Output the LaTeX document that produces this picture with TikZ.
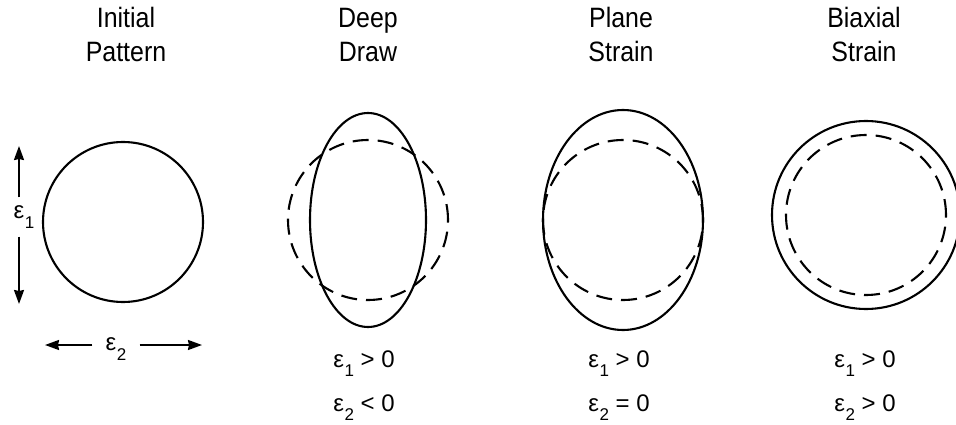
\documentclass[tikz,border=0pt]{standalone}
\usepackage{fontspec}
\setmainfont{Liberation Sans}
\newfontfamily\titlefont[FakeStretch=0.89]{Liberation Sans}
\usepackage{tikz}
\usetikzlibrary{calc,positioning,arrows.meta}

\newcommand{\eps}[1]{ε\kern0.5pt\raisebox{-0.38em}{\fontsize{17}{17}\selectfont #1}}

\begin{document}
\begin{tikzpicture}[x=1pt,y=-1pt,
  newshape/.style={line width=2.1pt},
  oldshape/.style={line width=2.1pt,dash pattern=on 16pt off 9pt},
  strarrow/.style={line width=1.8pt,-{Stealth[length=14pt,width=10pt,inset=1pt]}},
  title/.style={anchor=base,inner sep=0pt,font=\titlefont\fontsize{28}{34}\selectfont},
  cond/.style={anchor=base,inner sep=0pt,font=\fontsize{24}{28}\selectfont}]
  \useasboundingbox (0,0) rectangle (956,425);
  % centres of the four patterns
  \coordinate (Ci) at (123,222);
  \coordinate (Cd) at (368,220);
  \coordinate (Cp) at (623,220);
  \coordinate (Cb) at (866,215);
  % titles
  \node[title] (Ti) at (126,28) {Initial};
  \node[title] (Ti2) at (126,62) {Pattern};
  \node[title] (Td) at (368,28) {Deep};
  \node[title] (Td2) at (368,62) {Draw};
  \node[title] (Tp) at (621,28) {Plane};
  \node[title] (Tp2) at (621,62) {Strain};
  \node[title] (Tb) at (864,28) {Biaxial};
  \node[title] (Tb2) at (864,62) {Strain};
  % initial pattern with strain directions
  \draw[newshape] (Ci) circle (80pt);
  \coordinate (Vt) at (19,146);
  \coordinate (Vb) at (19,304);
  \coordinate (Hl) at (45,345);
  \coordinate (Hr) at (202,345);
  \node[cond,minimum height=39pt,anchor=center] (eone) at (24,217) {\eps{1}};
  \node[cond,minimum width=47pt,anchor=center] (etwo) at (116,349) {\eps{2}};
  \draw[strarrow] (eone.north -| Vt) -- (Vt);
  \draw[strarrow] (eone.south -| Vb) -- (Vb);
  \draw[strarrow] (etwo.west |- Hl) -- (Hl);
  \draw[strarrow] (etwo.east |- Hr) -- (Hr);
  % deep draw
  \draw[oldshape] (Cd) circle (80pt);
  \draw[newshape] (Cd) ellipse [x radius=58pt,y radius=107pt];
  % plane strain
  \draw[oldshape] (Cp) ellipse [x radius=80pt,y radius=80pt];
  \draw[newshape] (Cp) ellipse [x radius=80pt,y radius=110pt];
  % biaxial strain
  \draw[oldshape] (Cb) circle (80pt);
  \draw[newshape] (Cb) circle (94pt);
  % strain conditions
  \node[cond] (Cd1) at (364,367) {\eps{1} > 0};
  \node[cond] (Cd2) at (364,411) {\eps{2} < 0};
  \node[cond] (Cp1) at (619,367) {\eps{1} > 0};
  \node[cond] (Cp2) at (619,411) {\eps{2} = 0};
  \node[cond] (Cb1) at (865,367) {\eps{1} > 0};
  \node[cond] (Cb2) at (865,411) {\eps{2} > 0};
\end{tikzpicture}
\end{document}
